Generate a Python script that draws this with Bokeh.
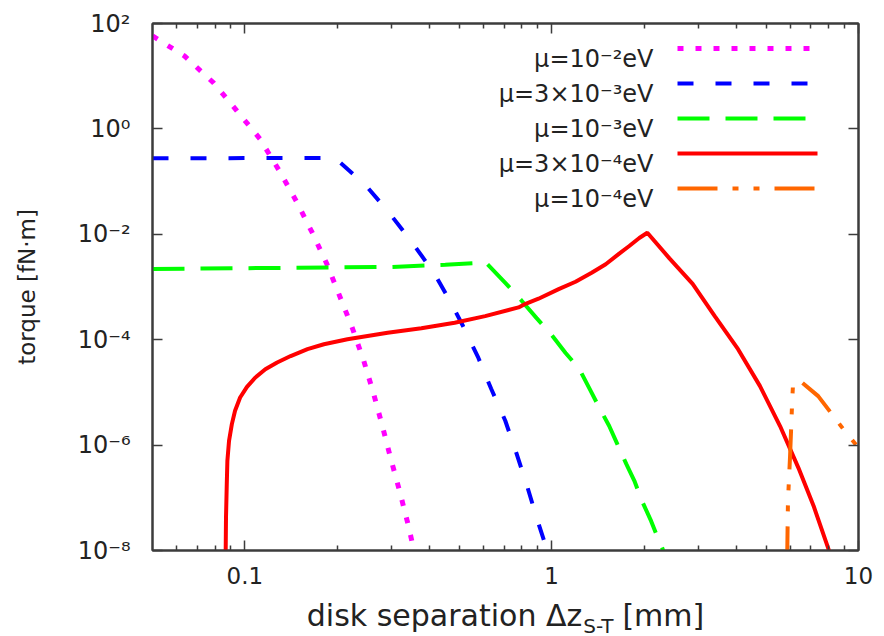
import json
import math
from bokeh.plotting import figure
from bokeh.layouts import column
from bokeh.models import (Range1d, LogAxis, FixedTicker, CustomJSTickFormatter,
                          Label, Arrow)
from bokeh.embed import file_html
from bokeh.resources import INLINE

# ---------------- data ----------------
# disk separation [mm] and torque [fN·m] for each coupling mass
MU_1E2_X = [0.05, 0.0635, 0.0791, 0.0942, 0.112, 0.129, 0.147, 0.166, 0.185, 0.203,
            0.224, 0.244, 0.263, 0.281, 0.299, 0.320, 0.340, 0.353, 0.365]
MU_1E2_Y = [58, 24.3, 7.46, 2.2, 0.646, 0.167, 0.043, 0.0106, 2.74e-3, 7.1e-4,
            1.67e-4, 4.0e-5, 9.3e-6, 2.24e-6, 5.5e-7, 1.29e-7, 3.2e-8, 1.23e-8, 5e-9]

MU_3E3_X = [0.05, 0.196, 0.205, 0.245, 0.292, 0.348, 0.413, 0.470, 0.514, 0.577,
            0.635, 0.706, 0.767, 0.828, 0.893, 0.964, 0.985]
MU_3E3_Y = [0.278, 0.28, 0.226, 0.091, 0.0278, 7.5e-3, 1.86e-3, 5.0e-4, 1.82e-4, 4.5e-5,
            1.17e-5, 2.9e-6, 7.1e-7, 1.82e-7, 4.2e-8, 1.07e-8, 5e-9]

MU_1E3_X = [0.05, 0.3, 0.45, 0.61, 0.711, 0.798, 0.893, 0.993, 1.11, 1.23, 1.34, 1.43,
            1.54, 1.63, 1.75, 1.86, 1.97, 2.11, 2.24, 2.30, 2.34]
MU_1E3_Y = [2.2e-3, 2.4e-3, 2.65e-3, 2.9e-3, 1.15e-3, 5.5e-4, 2.57e-4, 1.29e-4, 5.6e-5,
            2.8e-5, 1.07e-5, 5.1e-6, 2.3e-6, 1.1e-6, 4.4e-7, 2.1e-7, 8.7e-8, 3.6e-8,
            1.5e-8, 1.07e-8, 5e-9]

MU_3E4_X = [0.0866, 0.0866, 0.0868, 0.0873, 0.0877, 0.0888, 0.0907, 0.0929, 0.0965,
            0.1016, 0.108, 0.1166, 0.1274, 0.141, 0.160, 0.181, 0.216, 0.292, 0.376,
            0.483, 0.607, 0.780, 0.822, 0.906, 1.054, 1.196, 1.35, 1.50, 1.66, 1.79,
            1.93, 2.05, 2.42, 2.88, 3.40, 4.05, 4.77, 5.55, 6.37, 7.14, 7.98, 8.2]
MU_3E4_Y = [5e-9, 1e-8, 4.2e-8, 1.8e-7, 5.0e-7, 1.2e-6, 2.5e-6, 4.5e-6, 8.0e-6,
            1.27e-5, 1.9e-5, 2.75e-5, 3.7e-5, 4.9e-5, 6.6e-5, 8.2e-5, 1.02e-4, 1.36e-4,
            1.65e-4, 2.1e-4, 2.8e-4, 4.1e-4, 4.8e-4, 6.0e-4, 9.1e-4, 1.26e-3, 1.86e-3,
            2.7e-3, 4.3e-3, 6.0e-3, 8.5e-3, 1.07e-2, 3.5e-3, 1.15e-3, 2.8e-4, 6.6e-5,
            1.33e-5, 2.3e-6, 3.7e-7, 7.0e-8, 1.07e-8, 5e-9]

MU_1E4_X = [5.85, 5.89, 5.98, 6.08, 6.12, 6.45, 7.39, 8.93, 10.0, 11.0]
MU_1E4_Y = [5e-9, 8.7e-8, 5.7e-7, 6.9e-6, 1.5e-5, 1.66e-5, 8.5e-6, 2.0e-6, 8.9e-7, 4.5e-7]

SERIES_LABELS = ["μ=10⁻²eV", "μ=3×10⁻³eV", "μ=10⁻³eV", "μ=3×10⁻⁴eV", "μ=10⁻⁴eV"]

X_TICKS = [0.1, 1, 10]
X_TICK_LABELS = ["0.1", "1", "10"]
X_MINOR_TICKS = [0.06, 0.07, 0.08, 0.09, 0.2, 0.3, 0.4, 0.5, 0.6, 0.7, 0.8, 0.9,
                 2, 3, 4, 5, 6, 7, 8, 9]
Y_TICKS = [1e-8, 1e-6, 1e-4, 1e-2, 1, 1e2]
Y_TICK_LABELS = ["10⁻⁸", "10⁻⁶", "10⁻⁴", "10⁻²", "10⁰", "10²"]

X_TITLE_MAIN = "disk separation Δz"
X_TITLE_SUB = "S-T"
X_TITLE_END = "[mm]"
Y_TITLE = "torque [fN·m]"

# ---------------- styles ----------------
COLORS = ["#ff00ff", "#0000ff", "#00ff00", "#ff0000", "#ff6600"]
DASHES = ["6 12", "16 22", "32 16", "solid", "40 15 6 15 6 15"]
WIDTHS = [5, 4, 4, 4, 4]
FONT = "DejaVu Sans"
TXT = "#222222"
FRAME = "#3c3c3c"

W = 884
H_MAIN, H_TITLE = 594, 42
LEFT, RIGHT, TOP, BOTTOM = 152, 26, 23, 44

p = figure(width=W, height=H_MAIN, x_axis_type="log", y_axis_type="log",
           x_range=Range1d(0.05, 10), y_range=Range1d(1e-8, 1e2),
           output_backend="svg", toolbar_location=None, title=None,
           min_border_left=LEFT, min_border_right=RIGHT,
           min_border_top=TOP, min_border_bottom=BOTTOM)
p.grid.visible = False
p.background_fill_color = "white"
p.border_fill_color = "white"
p.outline_line_color = FRAME
p.outline_line_width = 2


def js_map(ticks, labels):
    m = {str(round(math.log10(t))): lab for t, lab in zip(ticks, labels)}
    return ("const m = " + json.dumps(m, ensure_ascii=False) +
            "; const k = String(Math.round(Math.log10(tick))); return (k in m) ? m[k] : '';")


def style_axis(ax, minor):
    ax.axis_line_color = FRAME
    ax.axis_line_width = 2
    ax.major_tick_line_color = FRAME
    ax.major_tick_line_width = 1.5
    ax.minor_tick_line_color = FRAME
    ax.minor_tick_line_width = 1.5
    ax.major_tick_in = 10
    ax.major_tick_out = 0
    ax.minor_tick_in = 5 if minor else 0
    ax.minor_tick_out = 0
    ax.major_label_text_font = FONT
    ax.major_label_text_font_size = "24px"
    ax.major_label_text_color = TXT


xt = FixedTicker(ticks=X_TICKS, minor_ticks=X_MINOR_TICKS)
yt = FixedTicker(ticks=Y_TICKS, minor_ticks=[])

xa = p.xaxis[0]
xa.ticker = xt
xa.formatter = CustomJSTickFormatter(code=js_map(X_TICKS, X_TICK_LABELS))
style_axis(xa, True)
xa.major_label_text_font_size = "23px"
xa.major_label_standoff = 16

ya = p.yaxis[0]
ya.ticker = yt
ya.formatter = CustomJSTickFormatter(code=js_map(Y_TICKS, Y_TICK_LABELS))
style_axis(ya, False)
ya.major_label_standoff = 22
ya.axis_label = Y_TITLE
ya.axis_label_text_font = FONT
ya.axis_label_text_font_size = "23px"
ya.axis_label_text_font_style = "normal"
ya.axis_label_text_color = TXT
ya.axis_label_standoff = 35

# mirrored tick marks on top and right
top = LogAxis(ticker=xt, formatter=CustomJSTickFormatter(code="return '';"))
style_axis(top, True)
top.major_label_text_font_size = "1px"
top.major_label_standoff = 0
p.add_layout(top, "above")
right = LogAxis(ticker=yt, formatter=CustomJSTickFormatter(code="return '';"))
style_axis(right, False)
right.major_label_text_font_size = "1px"
right.major_label_standoff = 0
p.add_layout(right, "right")

# curves
xs = [MU_1E2_X, MU_3E3_X, MU_1E3_X, MU_3E4_X, MU_1E4_X]
ys = [MU_1E2_Y, MU_3E3_Y, MU_1E3_Y, MU_3E4_Y, MU_1E4_Y]
for x, y, c, d, w in zip(xs, ys, COLORS, DASHES, WIDTHS):
    p.line(x, y, line_color=c, line_width=w, line_dash=d)

# key (text on the left, sample on the right), screen units relative to frame
frame_h = H_MAIN - TOP - BOTTOM
for i, (lab, c, d, w) in enumerate(zip(SERIES_LABELS, COLORS, DASHES, WIDTHS)):
    yl = frame_h - 25 - 35 * i
    p.add_layout(Arrow(start=None, end=None, x_start=525, y_start=yl, x_end=665, y_end=yl,
                       start_units="screen", end_units="screen",
                       line_color=c, line_width=w, line_dash=d))
    p.add_layout(Label(x=501, y=yl - 10, x_units="screen", y_units="screen", text=lab,
                       text_align="right", text_baseline="middle", text_font=FONT,
                       text_font_size="24px", text_color=TXT))

# x-axis title with a subscript, drawn in a strip below the plot
# (the strip's frame is aligned with the main frame, so x is relative to LEFT)
t = figure(width=W, height=H_TITLE, x_range=Range1d(0, 1), y_range=Range1d(0, 1),
           output_backend="svg", toolbar_location=None, title=None,
           x_axis_location=None, y_axis_location=None, min_border=0)
t.grid.visible = False
t.outline_line_color = None
t.background_fill_color = "white"
t.border_fill_color = "white"

TFS, SFS = 30, 20
w_main = 9.182 * TFS
w_sub = 1.607 * SFS
w_end = 2.728 * TFS
total = w_main + 1 + w_sub + 7 + w_end
frame_w = W - LEFT - RIGHT
main_end = frame_w / 2 - total / 2 + w_main
mid_main = H_MAIN + H_TITLE - 615
mid_sub = H_MAIN + H_TITLE - 625
t.add_layout(Label(x=main_end, y=mid_main, x_units="screen", y_units="screen",
                   text=X_TITLE_MAIN, text_align="right", text_baseline="middle",
                   text_font=FONT, text_font_size=f"{TFS}px", text_color=TXT))
t.add_layout(Label(x=main_end + 1, y=mid_sub, x_units="screen", y_units="screen",
                   text=X_TITLE_SUB, text_align="left", text_baseline="middle",
                   text_font=FONT, text_font_size=f"{SFS}px", text_color=TXT))
t.add_layout(Label(x=main_end + 1 + w_sub + 7, y=mid_main, x_units="screen", y_units="screen",
                   text=X_TITLE_END, text_align="left", text_baseline="middle",
                   text_font=FONT, text_font_size=f"{TFS}px", text_color=TXT))

layout = column(p, t, spacing=0)
open("out.html", "w").write(file_html(layout, INLINE))
